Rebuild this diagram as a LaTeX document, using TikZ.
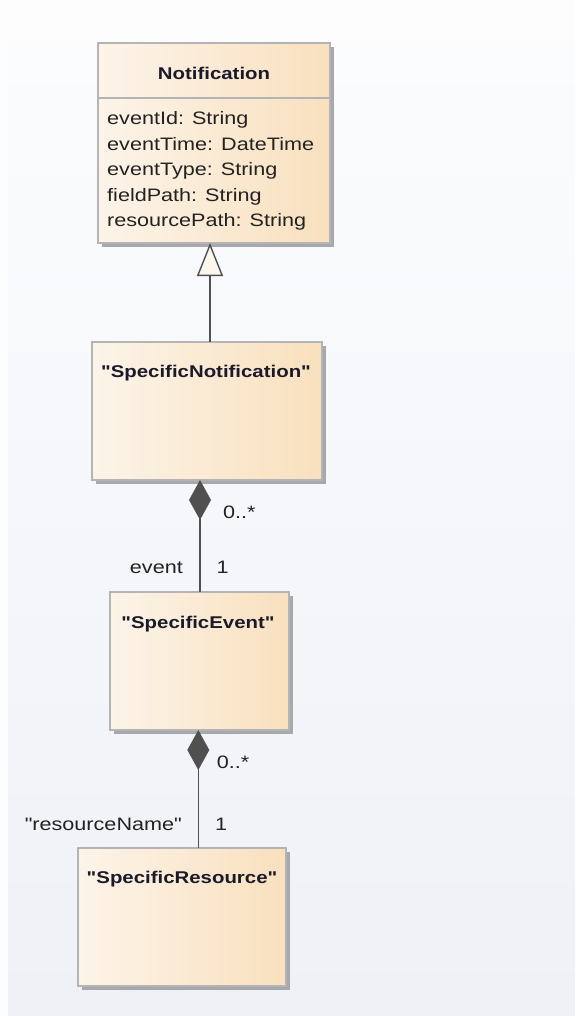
\documentclass[tikz,border=0pt]{standalone}
\usepackage{fontspec}
\setmainfont[FakeStretch=1.2, Ligatures=TeXOff]{Liberation Sans}
\usetikzlibrary{arrows.meta}
\definecolor{bgTop}{HTML}{FBFCFD}
\definecolor{bgBot}{HTML}{EFF1F7}
\definecolor{boxL}{HTML}{FCF4E9}
\definecolor{boxR}{HTML}{F9E0BE}
\definecolor{boxBorder}{HTML}{B4B4B4}
\definecolor{shadowC}{HTML}{A6A8AC}
\definecolor{lineC}{HTML}{505050}
\definecolor{txtC}{HTML}{222222}
\definecolor{titleC}{HTML}{1A1A2A}
\definecolor{triFill}{HTML}{FDF6EC}
\tikzset{
  umlbox/.style={draw=boxBorder, line width=1.2pt, left color=boxL, right color=boxR,
    anchor=north west, inner sep=0pt, outer sep=0pt,
    preaction={fill=shadowC, transform canvas={shift={(4pt,-4pt)}}}},
  umltitle/.style={font=\fontsize{17}{20}\selectfont\bfseries, text=titleC, inner sep=0pt},
  umlattr/.style={font=\fontsize{18}{21}\selectfont, text=txtC, inner sep=0pt, anchor=west,
    text height=13pt, text depth=4pt},
  umllabel/.style={font=\fontsize{18}{21}\selectfont, text=txtC, inner sep=0pt,
    text height=13pt, text depth=4pt},
  conn/.style={draw=lineC, line width=1.4pt},
  gen/.style={conn, -{Triangle[open, length=33pt, width=26pt, fill=triFill]}},
  comp/.style={conn, {Diamond[length=40pt, width=22pt, fill=lineC]}-}
}
\begin{document}
\begin{tikzpicture}[x=1pt, y=-1pt]
\useasboundingbox (0,0) rectangle (575,1016);
\fill[white!50!bgTop] (0,0) rectangle (575,1016);
\shade[top color=bgTop, bottom color=bgBot] (8,40) rectangle (575,1016);

% Notification
\node[umlbox, minimum width=232pt, minimum height=200pt] (notif) at (98,43) {};
\draw[boxBorder, line width=1.2pt] (98,98) -- (330,98);
\node[umltitle] (notifT) at (214,73) {Notification};
\node[umlattr] (a1) at (107,120) {eventId: String};
\node[umlattr] (a2) at (107,145.6) {eventTime: DateTime};
\node[umlattr] (a3) at (107,171.2) {eventType: String};
\node[umlattr] (a4) at (107,196.8) {fieldPath: String};
\node[umlattr] (a5) at (107,222.4) {resourcePath: String};

% SpecificNotification
\node[umlbox, minimum width=230pt, minimum height=138pt] (snot) at (92,342) {};
\node[umltitle] (snotT) at (206,373) {"SpecificNotification"};

% SpecificEvent
\node[umlbox, minimum width=179pt, minimum height=138pt] (sev) at (110,592) {};
\node[umltitle] (sevT) at (198,624) {"SpecificEvent"};

% SpecificResource
\node[umlbox, minimum width=208pt, minimum height=138pt] (sres) at (78,848) {};
\node[umltitle] (sresT) at (182,879) {"SpecificResource"};

% connector x positions
\coordinate (gx) at (210,0);
\coordinate (c1x) at (200,0);
\coordinate (c2x) at (198.3,0);

% generalization
\draw[gen] (snot.north -| gx) -- (notif.south -| gx);

% composition 1
\draw[comp] (snot.south -| c1x) -- (sev.north -| c1x);
\node[umllabel, anchor=west] (m1) at (223,514) {0..*};
\node[umllabel, anchor=east] (r1) at (183,569) {event};
\node[umllabel, anchor=west] (m1b) at (216.5,569) {1};

% composition 2
\draw[comp] (sev.south -| c2x) -- (sres.north -| c2x);
\node[umllabel, anchor=west] (m2) at (216.7,764) {0..*};
\node[umllabel, anchor=east] (r2) at (182,826) {"resourceName"};
\node[umllabel, anchor=west] (m2b) at (215,826) {1};
\end{tikzpicture}
\end{document}
